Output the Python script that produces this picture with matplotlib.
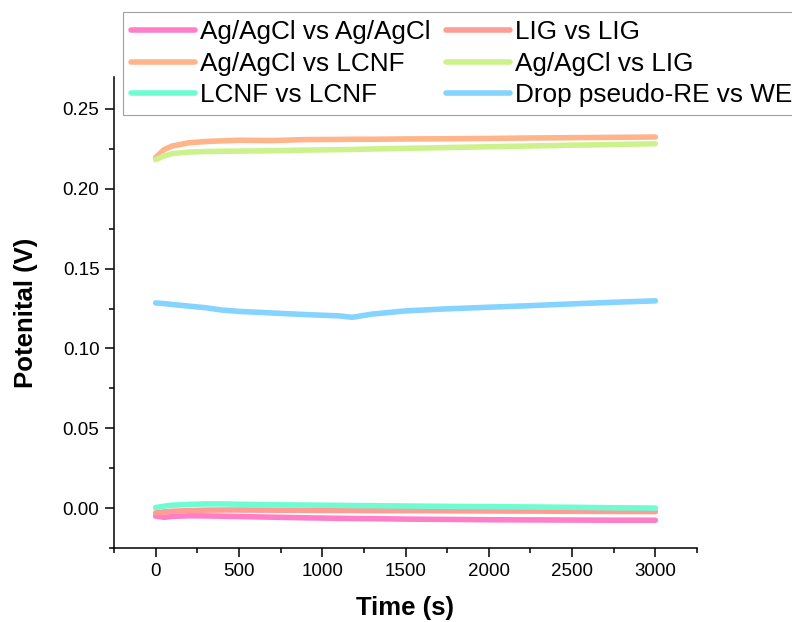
import matplotlib
matplotlib.use("Agg")
import matplotlib.pyplot as plt
from matplotlib.ticker import MultipleLocator, FormatStrFormatter

plt.rcParams["font.family"] = ["Liberation Sans", "DejaVu Sans"]

# time grid (s) shared by all traces
time_s = [0, 50, 100, 200, 300, 400, 500, 700, 900, 1100, 1180, 1300,
          1500, 1750, 2000, 2250, 2500, 2750, 3000]

agcl_agcl = [-0.0050, -0.0058, -0.0052, -0.0048, -0.0049, -0.0051, -0.0053, -0.0057, -0.0061, -0.0064,
             -0.0065, -0.0066, -0.0069, -0.0071, -0.0073, -0.0074, -0.0075, -0.0076, -0.0076]
lig_lig = [-0.0030, -0.0024, -0.0020, -0.0016, -0.0013, -0.0012, -0.0012, -0.0013, -0.0014, -0.0015,
           -0.0015, -0.0016, -0.0016, -0.0017, -0.0018, -0.0019, -0.0020, -0.0021, -0.0022]
agcl_lcnf = [0.2195, 0.2245, 0.2268, 0.2288, 0.2296, 0.2300, 0.2304, 0.2302, 0.2308, 0.2309,
             0.2310, 0.2310, 0.2312, 0.2313, 0.2315, 0.2318, 0.2320, 0.2322, 0.2324]
agcl_lig = [0.2182, 0.2205, 0.2220, 0.2230, 0.2233, 0.2235, 0.2236, 0.2238, 0.2242, 0.2245,
            0.2246, 0.2249, 0.2253, 0.2258, 0.2263, 0.2268, 0.2273, 0.2277, 0.2282]
lcnf_lcnf = [0.0003, 0.0012, 0.0018, 0.0023, 0.0026, 0.0026, 0.0024, 0.0021, 0.0019, 0.0017,
             0.0016, 0.0015, 0.0013, 0.0011, 0.0009, 0.0007, 0.0005, 0.0002, 0.0000]
drop_we = [0.1285, 0.1281, 0.1275, 0.1265, 0.1255, 0.1240, 0.1232, 0.1222, 0.1212, 0.1204,
           0.1195, 0.1215, 0.1235, 0.1248, 0.1258, 0.1268, 0.1279, 0.1289, 0.1298]

series = [
    ("Ag/AgCl vs Ag/AgCl", agcl_agcl, "#FF7EC7"),
    ("LIG vs LIG", lig_lig, "#FF9C94"),
    ("Ag/AgCl vs LCNF", agcl_lcnf, "#FFB48A"),
    ("Ag/AgCl vs LIG", agcl_lig, "#CDF28D"),
    ("LCNF vs LCNF", lcnf_lcnf, "#6FFCD3"),
    ("Drop pseudo-RE vs WE", drop_we, "#85D3FF"),
]

fig = plt.figure(figsize=(7.92, 6.22), dpi=100)
ax = fig.add_axes([114 / 792, 1 - 548 / 622, (697 - 114) / 792, (548 - 77) / 622])

lines = {}
for label, values, color in series:
    (ln,) = ax.plot(time_s, values, color=color, lw=4, label=label,
                    solid_capstyle="round", solid_joinstyle="round")
    lines[label] = ln

ax.set_xlim(-250, 3250)
ax.set_ylim(-0.025, 0.27)
ax.xaxis.set_major_locator(MultipleLocator(500))
ax.xaxis.set_minor_locator(MultipleLocator(250))
ax.yaxis.set_major_locator(MultipleLocator(0.05))
ax.yaxis.set_minor_locator(MultipleLocator(0.025))
ax.yaxis.set_major_formatter(FormatStrFormatter("%.2f"))

ax.spines["top"].set_visible(False)
ax.spines["right"].set_visible(False)
for side in ("left", "bottom"):
    ax.spines[side].set_linewidth(1.1)
ax.tick_params(which="major", direction="out", length=6.5, width=1.1, labelsize=13.5, pad=4)
ax.tick_params(which="minor", direction="out", length=3.5, width=1.1)

ax.set_xlabel("Time (s)", fontsize=18.5, fontweight="bold", labelpad=12)
ax.set_ylabel("Potenital (V)", fontsize=18.5, fontweight="bold", labelpad=18)

# column-major fill: left column then right column
order = ["Ag/AgCl vs Ag/AgCl", "Ag/AgCl vs LCNF", "LCNF vs LCNF",
         "LIG vs LIG", "Ag/AgCl vs LIG", "Drop pseudo-RE vs WE"]
leg = fig.legend([lines[k] for k in order], order, ncol=2, loc="upper left",
                 bbox_to_anchor=(123 / 792, 1 - 12 / 622), bbox_transform=fig.transFigure,
                 borderaxespad=0, borderpad=0.3, fontsize=18.8, handlelength=2.45,
                 handletextpad=0.2, columnspacing=0.58, labelspacing=0.3,
                 fancybox=False, framealpha=1, edgecolor="#a0a0a0")
leg.get_frame().set_linewidth(0.8)

fig.savefig("out.png", dpi=100)
